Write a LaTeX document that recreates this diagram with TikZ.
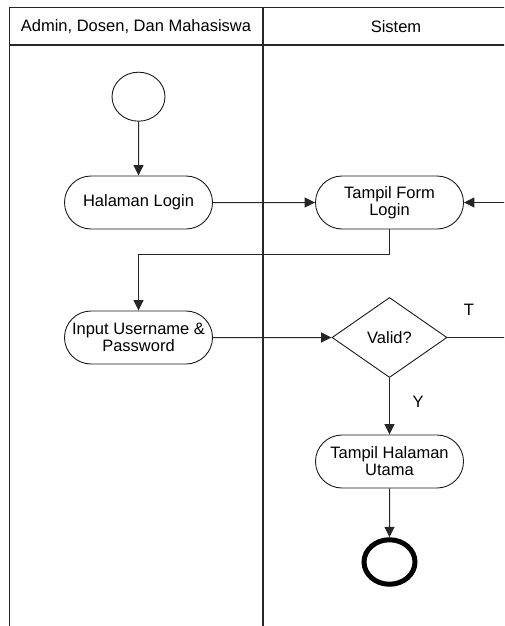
\documentclass[tikz,border=0pt]{standalone}
\usepackage{fontspec}
\setmainfont{Liberation Sans}
\usetikzlibrary{shapes.misc,shapes.geometric,arrows.meta}

\begin{document}
\begin{tikzpicture}[x=1pt,y=-1pt,
  every node/.style={font=\fontsize{16.5}{17}\selectfont, text=black},
  lane/.style={draw=black!85, line width=1.6pt},
  activity/.style={rounded rectangle, draw=black!90, line width=0.9pt,
    minimum width=148pt, minimum height=53pt, inner sep=0pt, align=center},
  decision/.style={diamond, draw=black!90, line width=0.9pt,
    minimum width=115pt, minimum height=80pt, inner sep=0pt},
  startnode/.style={ellipse, draw=black!90, line width=0.9pt,
    minimum width=53pt, minimum height=49pt, inner sep=0pt},
  endnode/.style={ellipse, draw=black, line width=5pt,
    minimum width=51pt, minimum height=44.5pt, inner sep=0pt},
  conn/.style={draw=black!85, line width=1pt,
    -{Triangle[length=10.5pt,width=10pt]}},
  plain/.style={draw=black!85, line width=1pt}]

\useasboundingbox (0,0) rectangle (504,626);
\clip (0,0) rectangle (504,626);

% swimlanes
\draw[lane, line width=1.2pt] (9.5,7.5) -- (530,7.5);
\draw[lane] (9.5,45) -- (530,45);
\draw[lane] (9.5,7.5) -- (9.5,640);
\draw[lane] (263,7.5) -- (263,640);
\node (hdrA) at (136,27) {Admin, Dosen, Dan Mahasiswa};
\node (hdrB) at (396,27) {Sistem};

% activities
\node[startnode] (start) at (138.5,96.7) {};
\node[activity] (login) at (138.5,202.5) {Halaman Login};
\node[activity] (tform) at (389.5,202.5) {Tampil Form\\Login};
\node[activity] (input) at (138.5,337.5) {Input Username \&\\Password};
\node[decision] (valid) at (389.5,337.5) {Valid?};
\node[activity] (utama) at (389.5,461.5) {Tampil Halaman\\Utama};
\node[endnode] (stop) at (389.5,562) {};

\node (lblT) at (469,310) {T};
\node (lblY) at (418,402) {Y};

\coordinate (bend) at (138.5,254);
\coordinate (loop) at (525,270);

% flows
\draw[conn] (start) -- (login);
\draw[conn] (login) -- (tform);
\draw[plain] (tform.south) |- (bend);
\draw[conn] (bend) -- (input.north);
\draw[conn] (input) -- (valid);
\draw[conn] (valid) -- (utama);
\draw[conn] (utama) -- (stop);
\draw[conn] (valid.east) -- (valid.east -| loop) -- (loop |- tform.east) -- (tform.east);
\end{tikzpicture}
\end{document}
